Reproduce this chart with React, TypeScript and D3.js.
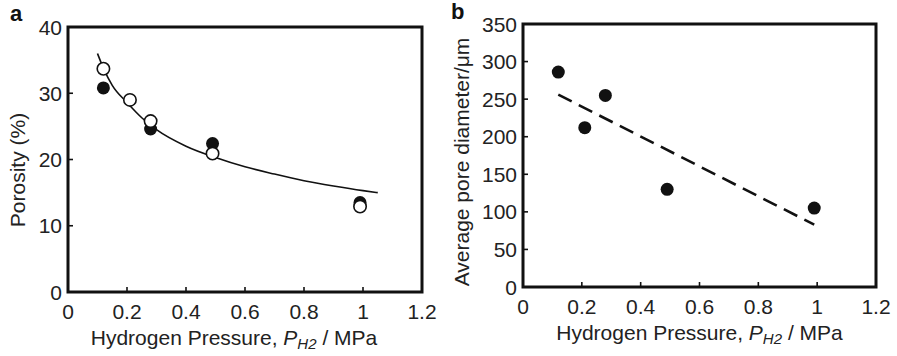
import { useEffect, useRef } from 'react'
import * as d3 from 'd3'

// Panel a: porosity vs hydrogen pressure
const porosityFilledX = [0.12, 0.28, 0.49, 0.99]
const porosityFilledY = [30.8, 24.6, 22.4, 13.5]
const porosityOpenX = [0.12, 0.21, 0.28, 0.49, 0.99]
const porosityOpenY = [33.7, 29.0, 25.8, 20.9, 12.9]
// fitted curve
const fitX = [0.1, 0.12, 0.15, 0.2, 0.25, 0.3, 0.4, 0.5, 0.6, 0.7, 0.8, 0.9, 1.0, 1.05]
const fitY = [36.0, 33.8, 31.2, 28.6, 26.3, 24.5, 22.0, 20.3, 18.9, 17.8, 16.8, 16.0, 15.3, 15.0]

// Panel b: average pore diameter vs hydrogen pressure
const poreX = [0.12, 0.21, 0.28, 0.49, 0.99]
const poreY = [286, 212, 255, 130, 105]
const trendX = [0.12, 0.99]
const trendY = [256, 83]

const xTicks = [0, 0.2, 0.4, 0.6, 0.8, 1, 1.2]
const yTicksA = [0, 10, 20, 30, 40]
const yTicksB = [0, 50, 100, 150, 200, 250, 300, 350]

const FONT = 'Liberation Sans, Arial, Helvetica, sans-serif'
const FS = '21px'

type Pt = [number, number]

function drawFrame(
  g: d3.Selection<SVGGElement, unknown, null, undefined>,
  x: d3.ScaleLinear<number, number>,
  y: d3.ScaleLinear<number, number>,
  yTicks: number[],
  w: number,
  h: number,
  titleShift: number
) {
  // inward ticks
  g.selectAll('.xt')
    .data(xTicks.slice(1, -1))
    .enter()
    .append('line')
    .attr('x1', d => x(d))
    .attr('x2', d => x(d))
    .attr('y1', h)
    .attr('y2', h - 5)
    .attr('stroke', '#111')
    .attr('stroke-width', 1.6)
  g.selectAll('.yt')
    .data(yTicks.slice(1, -1))
    .enter()
    .append('line')
    .attr('x1', 0)
    .attr('x2', 5)
    .attr('y1', d => y(d))
    .attr('y2', d => y(d))
    .attr('stroke', '#111')
    .attr('stroke-width', 1.6)

  g.append('rect')
    .attr('x', 0)
    .attr('y', 0)
    .attr('width', w)
    .attr('height', h)
    .attr('fill', 'none')
    .attr('stroke', '#111')
    .attr('stroke-width', 3)

  g.selectAll('.xl')
    .data(xTicks)
    .enter()
    .append('text')
    .attr('x', d => x(d))
    .attr('y', h + 27)
    .attr('text-anchor', 'middle')
    .style('font-family', FONT)
    .style('font-size', FS)
    .attr('fill', '#222')
    .text(d => String(d))
  g.selectAll('.yl')
    .data(yTicks)
    .enter()
    .append('text')
    .attr('x', -6)
    .attr('y', d => y(d))
    .attr('dy', '0.36em')
    .attr('text-anchor', 'end')
    .style('font-family', FONT)
    .style('font-size', FS)
    .attr('fill', '#222')
    .text(d => String(d))

  // x axis title
  const t = g.append('text')
    .attr('x', w / 2 + titleShift)
    .attr('y', h + 53)
    .attr('text-anchor', 'middle')
    .style('font-family', FONT)
    .style('font-size', FS)
    .attr('fill', '#222')
  t.append('tspan').text('Hydrogen Pressure, ')
  t.append('tspan').style('font-style', 'italic').text('P')
  t.append('tspan').style('font-style', 'italic').style('font-size', '15px').attr('dy', 4).text('H2')
  t.append('tspan').attr('dy', -4).text(' / MPa')
}

export default function App() {
  const svgRef = useRef<SVGSVGElement>(null)

  useEffect(() => {
    if (!svgRef.current) return
    const svg = d3.select(svgRef.current)
    svg.selectAll('*').remove()

    // ---- panel a ----
    const ma = { left: 68, top: 27, w: 354, h: 265 }
    const xa = d3.scaleLinear().domain([0, 1.2]).range([0, ma.w])
    const ya = d3.scaleLinear().domain([0, 40]).range([ma.h, 0])
    const ga = svg.append('g').attr('transform', `translate(${ma.left},${ma.top})`)
    drawFrame(ga, xa, ya, yTicksA, ma.w, ma.h, -11)

    const fitPts: Pt[] = fitX.map((v, i) => [v, fitY[i]])
    ga.append('path')
      .attr('d', d3.line<Pt>().x(d => xa(d[0])).y(d => ya(d[1])).curve(d3.curveMonotoneX)(fitPts) || '')
      .attr('fill', 'none')
      .attr('stroke', '#111')
      .attr('stroke-width', 1.6)

    ga.selectAll('.pf')
      .data(porosityFilledX.map((v, i) => [v, porosityFilledY[i]] as Pt))
      .enter()
      .append('circle')
      .attr('cx', d => xa(d[0]))
      .attr('cy', d => ya(d[1]))
      .attr('r', 6.5)
      .attr('fill', '#111')
    ga.selectAll('.po')
      .data(porosityOpenX.map((v, i) => [v, porosityOpenY[i]] as Pt))
      .enter()
      .append('circle')
      .attr('cx', d => xa(d[0]))
      .attr('cy', d => ya(d[1]))
      .attr('r', 6.2)
      .attr('fill', '#fff')
      .attr('stroke', '#111')
      .attr('stroke-width', 1.6)

    svg.append('text')
      .attr('x', 10)
      .attr('y', 21)
      .style('font-family', FONT)
      .style('font-size', '22px')
      .style('font-weight', 'bold')
      .attr('fill', '#111')
      .text('a')
    svg.append('text')
      .attr('transform', `translate(25,170) rotate(-90)`)
      .attr('text-anchor', 'middle')
      .style('font-family', FONT)
      .style('font-size', FS)
      .attr('fill', '#222')
      .text('Porosity (%)')

    // ---- panel b ----
    const mb = { left: 523, top: 24, w: 353, h: 263 }
    const xb = d3.scaleLinear().domain([0, 1.2]).range([0, mb.w])
    const yb = d3.scaleLinear().domain([0, 350]).range([mb.h, 0])
    const gb = svg.append('g').attr('transform', `translate(${mb.left},${mb.top})`)
    drawFrame(gb, xb, yb, yTicksB, mb.w, mb.h, 0)

    const trendPts: Pt[] = trendX.map((v, i) => [v, trendY[i]])
    gb.append('path')
      .attr('d', d3.line<Pt>().x(d => xb(d[0])).y(d => yb(d[1]))(trendPts) || '')
      .attr('fill', 'none')
      .attr('stroke', '#111')
      .attr('stroke-width', 2.6)
      .attr('stroke-dasharray', '15,8')

    gb.selectAll('.pd')
      .data(poreX.map((v, i) => [v, poreY[i]] as Pt))
      .enter()
      .append('circle')
      .attr('cx', d => xb(d[0]))
      .attr('cy', d => yb(d[1]))
      .attr('r', 6.5)
      .attr('fill', '#111')

    svg.append('text')
      .attr('x', 451)
      .attr('y', 19)
      .style('font-family', FONT)
      .style('font-size', '22px')
      .style('font-weight', 'bold')
      .attr('fill', '#111')
      .text('b')
    svg.append('text')
      .attr('transform', `translate(469,162) rotate(-90)`)
      .attr('text-anchor', 'middle')
      .style('font-family', FONT)
      .style('font-size', FS)
      .attr('fill', '#222')
      .text('Average pore diameter/μm')
  }, [])

  return (
    <svg
      ref={svgRef}
      width={897}
      height={356}
      style={{ position: 'absolute', left: 0, top: 0, background: '#fff' }}
    />
  )
}
